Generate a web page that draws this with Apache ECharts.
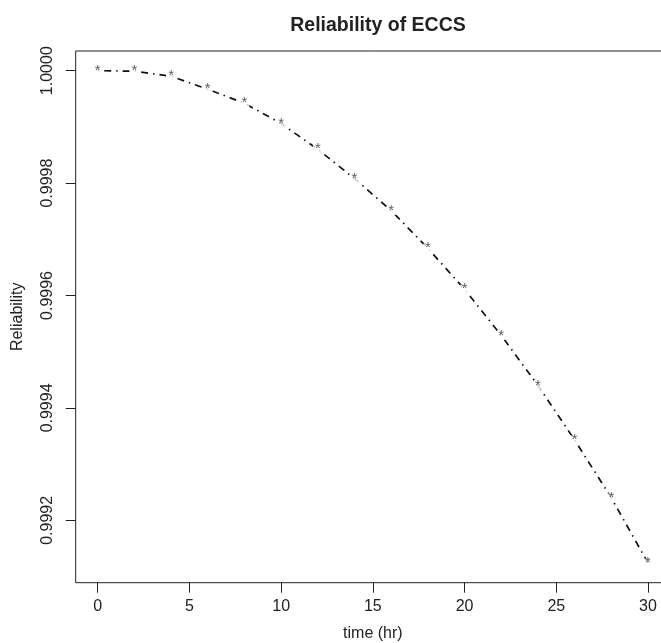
<!DOCTYPE html>
<html>
<head>
<meta charset="utf-8">
<script src="https://cdn.jsdelivr.net/npm/echarts@6/dist/echarts.min.js"></script>
<style>
html,body{margin:0;padding:0;background:#fff;}
#main{width:661px;height:643px;}
</style>
</head>
<body>
<div id="main"></div>
<script>
// Data
var timeHr = [0, 2, 4, 6, 8, 10, 12, 14, 16, 18, 20, 22, 24, 26, 28, 30];
var reliability = [1.000000, 0.999999, 0.999990, 0.999967, 0.999942, 0.999906, 0.999860, 0.999808,
                   0.999751, 0.999684, 0.999611, 0.999529, 0.999440, 0.999343, 0.999240, 0.999124];
var xTicks = [0, 5, 10, 15, 20, 25, 30];
var yTicks = [0.9992, 0.9994, 0.9996, 0.9998, 1.0000];

var pts = timeHr.map(function (t, i) { return [t, reliability[i]]; });

var chart = echarts.init(document.getElementById('main'), null, {renderer: 'canvas'});
var FONT = 'Liberation Sans, Arial, Helvetica, sans-serif';
var TXT = '#222';

chart.setOption({
  animation: false,
  backgroundColor: '#fff',
  title: {
    text: 'Reliability of ECCS',
    left: 373, textAlign: 'center',
    top: 11,
    textStyle: {fontFamily: FONT, fontSize: 19.5, fontWeight: 'bold', color: TXT}
  },
  grid: {
    left: 75.7, top: 51, right: -9, bottom: 60.3,
    outerBoundsMode: 'none', containLabel: false,
    show: true, borderColor: '#222', borderWidth: 1, backgroundColor: 'transparent'
  },
  xAxis: {
    type: 'value',
    min: -1.2, max: 31.2,
    name: 'time (hr)', nameLocation: 'middle', nameGap: 43,
    nameTextStyle: {fontFamily: FONT, fontSize: 16, color: TXT},
    axisLine: {show: false, onZero: false},
    splitLine: {show: false},
    axisTick: {show: true, inside: false, length: 10, customValues: xTicks, lineStyle: {color: '#222', width: 1}},
    axisLabel: {show: true, customValues: xTicks, margin: 16, fontFamily: FONT, fontSize: 16, color: TXT,
      formatter: function (v) { return String(v); }}
  },
  yAxis: {
    type: 'value',
    min: 0.999089, max: 1.000035,
    name: 'Reliability', nameLocation: 'middle', nameGap: 50, nameRotate: 90,
    nameTextStyle: {fontFamily: FONT, fontSize: 16, color: TXT},
    axisLine: {show: false, onZero: false},
    splitLine: {show: false},
    axisTick: {show: true, inside: false, length: 10, customValues: yTicks, lineStyle: {color: '#222', width: 1}},
    axisLabel: {show: true, customValues: yTicks, rotate: 90, margin: 20, fontFamily: FONT, fontSize: 16, color: TXT,
      formatter: function (v) { return v.toFixed(4); }}
  },
  series: [
    {
      type: 'line',
      data: pts,
      symbol: 'none',
      lineStyle: {color: '#111', width: 1.7, type: [1.5, 5, 7, 5], cap: 'butt'},
      z: 2
    },
    {
      type: 'scatter',
      data: pts,
      symbolSize: 2,
      itemStyle: {color: 'rgba(0,0,0,0)'},
      label: {
        show: true, position: 'inside', formatter: '*', offset: [0, 4.5],
        fontFamily: FONT, fontSize: 15, color: '#333',
        backgroundColor: '#fff', lineHeight: 9, padding: [0, 2]
      },
      labelLayout: {hideOverlap: false},
      z: 3
    }
  ]
});
</script>
</body>
</html>
